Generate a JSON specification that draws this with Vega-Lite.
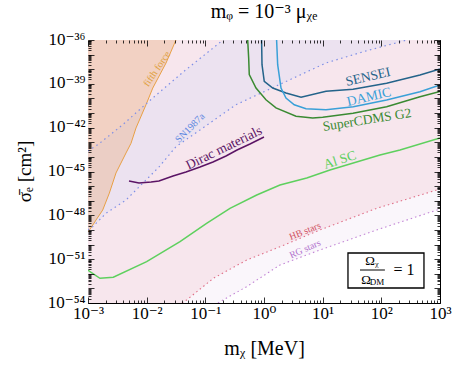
{
  "$schema": "https://vega.github.io/schema/vega-lite/v6.json",
  "width": 352,
  "height": 263,
  "autosize": "none",
  "padding": {"left": 88, "top": 40, "right": 14, "bottom": 63},
  "background": "white",
  "title": {"text": "mᵩ = 10⁻³ μᵪₑ", "font": "Liberation Serif, DejaVu Serif", "fontSize": 20, "fontWeight": "normal", "color": "black", "anchor": "middle", "frame": "group", "baseline": "alphabetic", "offset": 0, "dy": 8},
  "config": {"view": {"stroke": "black", "strokeWidth": 1}, "font": "Liberation Serif, DejaVu Serif"},
  "datasets": {
    "rg": [
      {"m": 0.001, "s": 1e-54}, {"m": 0.164, "s": 1e-54}, {"m": 0.202, "s": 1.62e-54}, {"m": 0.507, "s": 1.32e-53},
      {"m": 1.87, "s": 3.98e-52}, {"m": 9.02, "s": 4.27e-51}, {"m": 83.4, "s": 1e-49}, {"m": 1000, "s": 2.71e-48}
    ],
    "hb": [
      {"m": 0.001, "s": 1e-54}, {"m": 0.04, "s": 1e-54}, {"m": 0.0481, "s": 1.62e-54}, {"m": 0.137, "s": 4.9e-53},
      {"m": 0.507, "s": 8.71e-52}, {"m": 1.87, "s": 7.08e-51}, {"m": 9.02, "s": 1e-49}, {"m": 83.4, "s": 3.02e-48}, {"m": 1000, "s": 6.34e-47}
    ],
    "sn": [
      {"m": 0.001, "lo": 1e-49, "hi": 2.51e-44}, {"m": 0.0012, "lo": 1.66e-49, "hi": 4.12e-44},
      {"m": 0.00146, "lo": 3.66e-49, "hi": 6.76e-44}, {"m": 0.00203, "lo": 1.38e-48, "hi": 1.93e-43},
      {"m": 0.0039, "lo": 7.92e-48, "hi": 1.58e-42}, {"m": 0.00445, "lo": 1.12e-47, "hi": 2.52e-42},
      {"m": 0.00855, "lo": 1.55e-46, "hi": 2.64e-41}, {"m": 0.0127, "lo": 7.53e-46, "hi": 1.07e-40},
      {"m": 0.0164, "lo": 2.14e-45, "hi": 2.59e-40}, {"m": 0.0316, "lo": 5.01e-44, "hi": 2.43e-39},
      {"m": 0.0468, "lo": 1.5e-43, "hi": 9.33e-39}, {"m": 0.0811, "lo": 6.92e-43, "hi": 5.42e-38},
      {"m": 0.2, "lo": 8.9e-42, "hi": 1e-36}, {"m": 0.333, "lo": 3.72e-41, "hi": 1e-36},
      {"m": 11.4, "lo": 2.69e-38, "hi": 1e-36}, {"m": 54.8, "lo": 1.78e-37, "hi": 1e-36}, {"m": 274, "lo": 1e-36, "hi": 1e-36}
    ],
    "fifth": [
      {"m": 0.001, "s": 7.24e-50}, {"m": 0.00112, "s": 1.35e-49}, {"m": 0.00137, "s": 4.79e-49}, {"m": 0.00178, "s": 2.29e-48},
      {"m": 0.00231, "s": 3.3e-47}, {"m": 0.003, "s": 7.94e-46}, {"m": 0.00445, "s": 1.86e-44}, {"m": 0.00541, "s": 8.51e-44},
      {"m": 0.00658, "s": 9.55e-43}, {"m": 0.00975, "s": 3.72e-41}, {"m": 0.0127, "s": 5.13e-40}, {"m": 0.0214, "s": 2.69e-38},
      {"m": 0.0316, "s": 1e-36}
    ],
    "limits": [
      {"exp": "SENSEI", "m": 0.91, "s": 1e-36}, {"exp": "SENSEI", "m": 0.925, "s": 2.04e-38}, {"exp": "SENSEI", "m": 1.01, "s": 1.48e-39},
      {"exp": "SENSEI", "m": 1.41, "s": 5.13e-40}, {"exp": "SENSEI", "m": 2.37, "s": 2.34e-40}, {"exp": "SENSEI", "m": 4.28, "s": 1.2e-40},
      {"exp": "SENSEI", "m": 11.4, "s": 3.09e-40}, {"exp": "SENSEI", "m": 32.9, "s": 4.27e-40}, {"exp": "SENSEI", "m": 123, "s": 1.1e-39},
      {"exp": "SENSEI", "m": 456, "s": 3.98e-39}, {"exp": "SENSEI", "m": 1000, "s": 1.04e-38},
      {"exp": "DAMIC", "m": 1.64, "s": 1e-36}, {"exp": "DAMIC", "m": 1.71, "s": 2.04e-38}, {"exp": "DAMIC", "m": 1.95, "s": 5.13e-40},
      {"exp": "DAMIC", "m": 2.37, "s": 1.07e-40}, {"exp": "DAMIC", "m": 3.28, "s": 3.72e-41}, {"exp": "DAMIC", "m": 5.2, "s": 2e-41},
      {"exp": "DAMIC", "m": 11.4, "s": 1.7e-41}, {"exp": "DAMIC", "m": 33.3, "s": 2.69e-41}, {"exp": "DAMIC", "m": 123, "s": 7.76e-41},
      {"exp": "DAMIC", "m": 456, "s": 2.88e-40}, {"exp": "DAMIC", "m": 1000, "s": 8.32e-40},
      {"exp": "SuperCDMS G2", "m": 0.527, "s": 1e-36}, {"exp": "SuperCDMS G2", "m": 0.548, "s": 5.89e-38}, {"exp": "SuperCDMS G2", "m": 0.561, "s": 4.27e-39},
      {"exp": "SuperCDMS G2", "m": 0.731, "s": 5.13e-40}, {"exp": "SuperCDMS G2", "m": 1.08, "s": 8.13e-41}, {"exp": "SuperCDMS G2", "m": 1.6, "s": 2.24e-41},
      {"exp": "SuperCDMS G2", "m": 3.51, "s": 6.03e-42}, {"exp": "SuperCDMS G2", "m": 6.76, "s": 4.57e-42}, {"exp": "SuperCDMS G2", "m": 10, "s": 5.13e-42},
      {"exp": "SuperCDMS G2", "m": 32.9, "s": 9.55e-42}, {"exp": "SuperCDMS G2", "m": 123, "s": 2.69e-41}, {"exp": "SuperCDMS G2", "m": 456, "s": 1.32e-40},
      {"exp": "SuperCDMS G2", "m": 1000, "s": 2.99e-40},
      {"exp": "Al SC", "m": 0.001, "s": 1.82e-52}, {"exp": "Al SC", "m": 0.00108, "s": 1.38e-52}, {"exp": "Al SC", "m": 0.0016, "s": 4.9e-53},
      {"exp": "Al SC", "m": 0.0027, "s": 5.75e-53}, {"exp": "Al SC", "m": 0.01, "s": 6.76e-52}, {"exp": "Al SC", "m": 0.037, "s": 1.58e-50},
      {"exp": "Al SC", "m": 0.105, "s": 2.82e-49}, {"exp": "Al SC", "m": 0.263, "s": 3.02e-48}, {"exp": "Al SC", "m": 0.752, "s": 2.45e-47},
      {"exp": "Al SC", "m": 1.87, "s": 1.2e-46}, {"exp": "Al SC", "m": 5.35, "s": 3.63e-46}, {"exp": "Al SC", "m": 13.3, "s": 1.26e-45},
      {"exp": "Al SC", "m": 94.8, "s": 1.35e-44}, {"exp": "Al SC", "m": 208, "s": 2.95e-44}, {"exp": "Al SC", "m": 1000, "s": 1.95e-43},
      {"exp": "Dirac materials", "m": 0.005, "s": 2.24e-46}, {"exp": "Dirac materials", "m": 0.0074, "s": 1.62e-46}, {"exp": "Dirac materials", "m": 0.0119, "s": 1.91e-46},
      {"exp": "Dirac materials", "m": 0.0162, "s": 2.24e-46}, {"exp": "Dirac materials", "m": 0.0281, "s": 4.9e-46}, {"exp": "Dirac materials", "m": 0.0468, "s": 9.33e-46},
      {"exp": "Dirac materials", "m": 0.0811, "s": 2.04e-45}, {"exp": "Dirac materials", "m": 0.135, "s": 4.47e-45}, {"exp": "Dirac materials", "m": 0.225, "s": 1.15e-44},
      {"exp": "Dirac materials", "m": 0.347, "s": 2.95e-44}, {"exp": "Dirac materials", "m": 0.577, "s": 7.59e-44}, {"exp": "Dirac materials", "m": 1, "s": 2.29e-43}
    ],
    "labels": [
      {"label": "fifth force", "m": 0.015, "s": 1.04e-38},
      {"label": "SN1987a", "m": 0.0548, "s": 9.55e-43},
      {"label": "Dirac materials", "m": 0.208, "s": 4.07e-44},
      {"label": "SENSEI", "m": 59.3, "s": 2.94e-39},
      {"label": "DAMIC", "m": 61.7, "s": 1.26e-40},
      {"label": "SuperCDMS G2", "m": 57, "s": 3.35e-42},
      {"label": "Al SC", "m": 19.7, "s": 6.12e-45},
      {"label": "HB stars", "m": 5, "s": 8.47e-50},
      {"label": "RG stars", "m": 5, "s": 4.97e-51}
    ],
    "box": [{"m1": 27, "m2": 533, "s1": 2.64e-51, "s2": 1.06e-53}],
    "boxtext": [
      {"t": "Ωᵪ", "m": 69.3, "s": 7.48e-52},
      {"t": "Ω", "m": 54.8, "s": 3.75e-53},
      {"t": "DM", "m": 84.4, "s": 2.73e-53},
      {"t": "= 1", "m": 243, "s": 1.81e-52}
    ],
    "bar": [{"m1": 43.3, "m2": 115, "s": 1.81e-52}]
  },
  "resolve": {"axis": {"x": "independent", "y": "independent"}},
  "layer": [
    {
      "layer": [
        {
          "data": {"name": "rg"},
          "mark": {"type": "area", "color": "#faf6fb", "clip": true},
          "encoding": {
            "x": {"field": "m", "type": "quantitative", "scale": {"type": "log", "domain": [0.001, 1000], "nice": false},
              "axis": {
                "orient": "bottom", "title": "mᵪ [MeV]", "grid": false, "domain": false, "zindex": 2,
                "values": [0.001,0.002,0.003,0.004,0.005,0.006,0.007,0.008,0.009,0.01,0.02,0.03,0.04,0.05,0.06,0.07,0.08,0.09,0.1,0.2,0.3,0.4,0.5,0.6,0.7,0.8,0.9,1,2,3,4,5,6,7,8,9,10,20,30,40,50,60,70,80,90,100,200,300,400,500,600,700,800,900,1000],
                "labelExpr": "abs(log(datum.value)/LN10 - round(log(datum.value)/LN10)) < 0.01 ? '10' + (round(log(datum.value)/LN10) < 0 ? '⁻' : '') + substring('⁰¹²³⁴⁵⁶⁷⁸⁹', abs(round(log(datum.value)/LN10)), abs(round(log(datum.value)/LN10)) + 1) : ''",
                "tickSize": {"condition": {"test": "abs(log(datum.value)/LN10 - round(log(datum.value)/LN10)) < 0.01", "value": -6}, "value": -3},
                "tickColor": "black", "tickWidth": 0.8,
                "labelPadding": 8, "labelFont": "Liberation Serif, DejaVu Serif", "labelFontSize": 17, "labelColor": "black",
                "labelOverlap": false, "labelFlush": false,
                "titleFont": "Liberation Serif, DejaVu Serif", "titleFontSize": 20, "titleFontWeight": "normal", "titleColor": "black",
                "titleY": 51, "titleBaseline": "alphabetic"
              }},
            "y": {"field": "s", "type": "quantitative", "scale": {"type": "log", "domain": [1e-54, 1e-36], "nice": false},
              "axis": {
                "orient": "left", "title": "σ̄ₑ [cm²]", "grid": false, "domain": false, "zindex": 2,
                "values": [1e-54,2e-54,3e-54,4e-54,5e-54,6e-54,7e-54,8e-54,9e-54,1e-53,2e-53,3e-53,4e-53,5e-53,6e-53,7e-53,8e-53,9e-53,1e-52,2e-52,3e-52,4e-52,5e-52,6e-52,7e-52,8e-52,9e-52,1e-51,2e-51,3e-51,4e-51,5e-51,6e-51,7e-51,8e-51,9e-51,1e-50,2e-50,3e-50,4e-50,5e-50,6e-50,7e-50,8e-50,9e-50,1e-49,2e-49,3e-49,4e-49,5e-49,6e-49,7e-49,8e-49,9e-49,1e-48,2e-48,3e-48,4e-48,5e-48,6e-48,7e-48,8e-48,9e-48,1e-47,2e-47,3e-47,4e-47,5e-47,6e-47,7e-47,8e-47,9e-47,1e-46,2e-46,3e-46,4e-46,5e-46,6e-46,7e-46,8e-46,9e-46,1e-45,2e-45,3e-45,4e-45,5e-45,6e-45,7e-45,8e-45,9e-45,1e-44,2e-44,3e-44,4e-44,5e-44,6e-44,7e-44,8e-44,9e-44,1e-43,2e-43,3e-43,4e-43,5e-43,6e-43,7e-43,8e-43,9e-43,1e-42,2e-42,3e-42,4e-42,5e-42,6e-42,7e-42,8e-42,9e-42,1e-41,2e-41,3e-41,4e-41,5e-41,6e-41,7e-41,8e-41,9e-41,1e-40,2e-40,3e-40,4e-40,5e-40,6e-40,7e-40,8e-40,9e-40,1e-39,2e-39,3e-39,4e-39,5e-39,6e-39,7e-39,8e-39,9e-39,1e-38,2e-38,3e-38,4e-38,5e-38,6e-38,7e-38,8e-38,9e-38,1e-37,2e-37,3e-37,4e-37,5e-37,6e-37,7e-37,8e-37,9e-37,1e-36],
                "labelExpr": "abs(log(datum.value)/LN10 - round(log(datum.value)/LN10)) < 0.01 && round(log(datum.value)/LN10) % 3 == 0 ? '10⁻' + substring('⁰¹²³⁴⁵⁶⁷⁸⁹', floor(abs(round(log(datum.value)/LN10))/10), floor(abs(round(log(datum.value)/LN10))/10) + 1) + substring('⁰¹²³⁴⁵⁶⁷⁸⁹', abs(round(log(datum.value)/LN10)) % 10, abs(round(log(datum.value)/LN10)) % 10 + 1) : ''",
                "tickSize": {"condition": {"test": "abs(log(datum.value)/LN10 - round(log(datum.value)/LN10)) < 0.01", "value": -6}, "value": -3},
                "tickColor": "black", "tickWidth": 0.8,
                "labelPadding": 9, "labelFont": "Liberation Serif, DejaVu Serif", "labelFontSize": 17, "labelColor": "black",
                "labelBaseline": "middle", "labelOffset": -1, "labelOverlap": false, "labelFlush": false,
                "titleFont": "Liberation Serif, DejaVu Serif", "titleFontSize": 19, "titleFontWeight": "normal", "titleColor": "black",
                "titleX": -64, "titleY": 131, "titleBaseline": "middle", "titleAlign": "center"
              }},
            "y2": {"datum": 1e-36}
          }
        },
        {
          "data": {"name": "hb"},
          "mark": {"type": "area", "color": "#f7e6ed", "clip": true},
          "encoding": {
            "x": {"field": "m", "type": "quantitative"},
            "y": {"field": "s", "type": "quantitative"},
            "y2": {"datum": 1e-36}
          }
        },
        {
          "data": {"name": "sn"},
          "mark": {"type": "area", "color": "#ece2f0", "clip": true},
          "encoding": {
            "x": {"field": "m", "type": "quantitative"},
            "y": {"field": "lo", "type": "quantitative"},
            "y2": {"field": "hi"}
          }
        },
        {
          "data": {"name": "fifth"},
          "mark": {"type": "area", "color": "#e8ad7a", "opacity": 0.36, "clip": true},
          "encoding": {
            "x": {"field": "m", "type": "quantitative"},
            "y": {"field": "s", "type": "quantitative"},
            "y2": {"datum": 1e-36}
          }
        },
        {
          "data": {"name": "fifth"},
          "mark": {"type": "line", "color": "#e8a046", "strokeWidth": 1, "clip": true},
          "encoding": {
            "x": {"field": "m", "type": "quantitative"},
            "y": {"field": "s", "type": "quantitative"}
          }
        },
        {
          "data": {"name": "sn"},
          "mark": {"type": "line", "color": "#7f8fe6", "strokeWidth": 1.2, "strokeDash": [1.5, 3.5], "clip": true},
          "encoding": {
            "x": {"field": "m", "type": "quantitative"},
            "y": {"field": "lo", "type": "quantitative"}
          }
        },
        {
          "data": {"name": "sn"},
          "transform": [{"filter": "datum.m <= 0.2"}],
          "mark": {"type": "line", "color": "#7f8fe6", "strokeWidth": 1.2, "strokeDash": [1.5, 3.5], "clip": true},
          "encoding": {
            "x": {"field": "m", "type": "quantitative"},
            "y": {"field": "hi", "type": "quantitative"}
          }
        },
        {
          "data": {"name": "hb"},
          "transform": [{"filter": "datum.m >= 0.04"}],
          "mark": {"type": "line", "color": "#e07088", "strokeWidth": 1.1, "strokeDash": [1.5, 3], "clip": true},
          "encoding": {
            "x": {"field": "m", "type": "quantitative"},
            "y": {"field": "s", "type": "quantitative"}
          }
        },
        {
          "data": {"name": "rg"},
          "transform": [{"filter": "datum.m >= 0.164"}],
          "mark": {"type": "line", "color": "#c285d6", "strokeWidth": 1.1, "strokeDash": [1.5, 3], "clip": true},
          "encoding": {
            "x": {"field": "m", "type": "quantitative"},
            "y": {"field": "s", "type": "quantitative"}
          }
        },
        {
          "data": {"name": "limits"},
          "mark": {"type": "line", "strokeWidth": 1.5, "clip": true},
          "encoding": {
            "x": {"field": "m", "type": "quantitative"},
            "y": {"field": "s", "type": "quantitative"},
            "color": {"field": "exp", "type": "nominal", "legend": null,
              "scale": {"domain": ["SENSEI", "DAMIC", "SuperCDMS G2", "Al SC", "Dirac materials"], "range": ["#23638a", "#3aa0d8", "#3a8a32", "#5ed05e", "#5b1465"]}},
            "order": {"value": null}
          }
        },
        {
          "data": {"name": "labels"}, "transform": [{"filter": "datum.label == 'fifth force'"}],
          "mark": {"type": "text", "font": "Liberation Serif", "fontSize": 10, "color": "#e0a040", "angle": -56},
          "encoding": {"x": {"field": "m", "type": "quantitative"}, "y": {"field": "s", "type": "quantitative"}, "text": {"field": "label"}}
        },
        {
          "data": {"name": "labels"}, "transform": [{"filter": "datum.label == 'SN1987a'"}],
          "mark": {"type": "text", "font": "Liberation Serif", "fontSize": 10, "color": "#5b86e0", "angle": -45},
          "encoding": {"x": {"field": "m", "type": "quantitative"}, "y": {"field": "s", "type": "quantitative"}, "text": {"field": "label"}}
        },
        {
          "data": {"name": "labels"}, "transform": [{"filter": "datum.label == 'Dirac materials'"}],
          "mark": {"type": "text", "font": "Liberation Serif", "fontSize": 13.5, "color": "#5b1465", "angle": -26},
          "encoding": {"x": {"field": "m", "type": "quantitative"}, "y": {"field": "s", "type": "quantitative"}, "text": {"field": "label"}}
        },
        {
          "data": {"name": "labels"}, "transform": [{"filter": "datum.label == 'SENSEI'"}],
          "mark": {"type": "text", "font": "Liberation Serif", "fontSize": 13.5, "color": "#23638a", "angle": -13},
          "encoding": {"x": {"field": "m", "type": "quantitative"}, "y": {"field": "s", "type": "quantitative"}, "text": {"field": "label"}}
        },
        {
          "data": {"name": "labels"}, "transform": [{"filter": "datum.label == 'DAMIC'"}],
          "mark": {"type": "text", "font": "Liberation Serif", "fontSize": 13.5, "color": "#3aa0d8", "angle": -13},
          "encoding": {"x": {"field": "m", "type": "quantitative"}, "y": {"field": "s", "type": "quantitative"}, "text": {"field": "label"}}
        },
        {
          "data": {"name": "labels"}, "transform": [{"filter": "datum.label == 'SuperCDMS G2'"}],
          "mark": {"type": "text", "font": "Liberation Serif", "fontSize": 13.5, "color": "#3a8a32", "angle": -9},
          "encoding": {"x": {"field": "m", "type": "quantitative"}, "y": {"field": "s", "type": "quantitative"}, "text": {"field": "label"}}
        },
        {
          "data": {"name": "labels"}, "transform": [{"filter": "datum.label == 'Al SC'"}],
          "mark": {"type": "text", "font": "Liberation Serif", "fontSize": 13.5, "color": "#5ed05e", "angle": -18},
          "encoding": {"x": {"field": "m", "type": "quantitative"}, "y": {"field": "s", "type": "quantitative"}, "text": {"field": "label"}}
        },
        {
          "data": {"name": "labels"}, "transform": [{"filter": "datum.label == 'HB stars'"}],
          "mark": {"type": "text", "font": "Liberation Serif", "fontSize": 9.5, "color": "#d0505f", "angle": -22},
          "encoding": {"x": {"field": "m", "type": "quantitative"}, "y": {"field": "s", "type": "quantitative"}, "text": {"field": "label"}}
        },
        {
          "data": {"name": "labels"}, "transform": [{"filter": "datum.label == 'RG stars'"}],
          "mark": {"type": "text", "font": "Liberation Serif", "fontSize": 9.5, "color": "#b070cc", "angle": -24},
          "encoding": {"x": {"field": "m", "type": "quantitative"}, "y": {"field": "s", "type": "quantitative"}, "text": {"field": "label"}}
        }
      ]
    },
    {
      "layer": [
        {
          "data": {"name": "box"},
          "mark": {"type": "rect", "fill": "white", "stroke": "black", "strokeWidth": 1.3},
          "encoding": {
            "x": {"field": "m1", "type": "quantitative",
              "axis": {"orient": "top", "title": null, "labels": false, "grid": false, "domain": false, "zindex": 2,
                "values": [0.001,0.002,0.003,0.004,0.005,0.006,0.007,0.008,0.009,0.01,0.02,0.03,0.04,0.05,0.06,0.07,0.08,0.09,0.1,0.2,0.3,0.4,0.5,0.6,0.7,0.8,0.9,1,2,3,4,5,6,7,8,9,10,20,30,40,50,60,70,80,90,100,200,300,400,500,600,700,800,900,1000],
                "tickSize": {"condition": {"test": "abs(log(datum.value)/LN10 - round(log(datum.value)/LN10)) < 0.01", "value": -6}, "value": -3},
                "tickColor": "black", "tickWidth": 0.8}},
            "x2": {"field": "m2"},
            "y": {"field": "s1", "type": "quantitative",
              "axis": {"orient": "right", "title": null, "labels": false, "grid": false, "domain": false, "zindex": 2,
                "values": [1e-54,2e-54,3e-54,4e-54,5e-54,6e-54,7e-54,8e-54,9e-54,1e-53,2e-53,3e-53,4e-53,5e-53,6e-53,7e-53,8e-53,9e-53,1e-52,2e-52,3e-52,4e-52,5e-52,6e-52,7e-52,8e-52,9e-52,1e-51,2e-51,3e-51,4e-51,5e-51,6e-51,7e-51,8e-51,9e-51,1e-50,2e-50,3e-50,4e-50,5e-50,6e-50,7e-50,8e-50,9e-50,1e-49,2e-49,3e-49,4e-49,5e-49,6e-49,7e-49,8e-49,9e-49,1e-48,2e-48,3e-48,4e-48,5e-48,6e-48,7e-48,8e-48,9e-48,1e-47,2e-47,3e-47,4e-47,5e-47,6e-47,7e-47,8e-47,9e-47,1e-46,2e-46,3e-46,4e-46,5e-46,6e-46,7e-46,8e-46,9e-46,1e-45,2e-45,3e-45,4e-45,5e-45,6e-45,7e-45,8e-45,9e-45,1e-44,2e-44,3e-44,4e-44,5e-44,6e-44,7e-44,8e-44,9e-44,1e-43,2e-43,3e-43,4e-43,5e-43,6e-43,7e-43,8e-43,9e-43,1e-42,2e-42,3e-42,4e-42,5e-42,6e-42,7e-42,8e-42,9e-42,1e-41,2e-41,3e-41,4e-41,5e-41,6e-41,7e-41,8e-41,9e-41,1e-40,2e-40,3e-40,4e-40,5e-40,6e-40,7e-40,8e-40,9e-40,1e-39,2e-39,3e-39,4e-39,5e-39,6e-39,7e-39,8e-39,9e-39,1e-38,2e-38,3e-38,4e-38,5e-38,6e-38,7e-38,8e-38,9e-38,1e-37,2e-37,3e-37,4e-37,5e-37,6e-37,7e-37,8e-37,9e-37,1e-36],
                "tickSize": {"condition": {"test": "abs(log(datum.value)/LN10 - round(log(datum.value)/LN10)) < 0.01", "value": -6}, "value": -3},
                "tickColor": "black", "tickWidth": 0.8}},
            "y2": {"field": "s2"}
          }
        },
        {
          "data": {"name": "bar"},
          "mark": {"type": "rule", "color": "black", "strokeWidth": 1},
          "encoding": {
            "x": {"field": "m1", "type": "quantitative"},
            "x2": {"field": "m2"},
            "y": {"field": "s", "type": "quantitative"}
          }
        },
        {
          "data": {"name": "boxtext"}, "transform": [{"filter": "datum.t != 'DM' && datum.t != '= 1'"}],
          "mark": {"type": "text", "font": "Liberation Serif, DejaVu Serif", "fontSize": 13, "color": "black"},
          "encoding": {"x": {"field": "m", "type": "quantitative"}, "y": {"field": "s", "type": "quantitative"}, "text": {"field": "t"}}
        },
        {
          "data": {"name": "boxtext"}, "transform": [{"filter": "datum.t == 'DM'"}],
          "mark": {"type": "text", "font": "Liberation Serif", "fontSize": 9, "color": "black"},
          "encoding": {"x": {"field": "m", "type": "quantitative"}, "y": {"field": "s", "type": "quantitative"}, "text": {"field": "t"}}
        },
        {
          "data": {"name": "boxtext"}, "transform": [{"filter": "datum.t == '= 1'"}],
          "mark": {"type": "text", "font": "Liberation Serif", "fontSize": 16, "color": "black"},
          "encoding": {"x": {"field": "m", "type": "quantitative"}, "y": {"field": "s", "type": "quantitative"}, "text": {"field": "t"}}
        }
      ]
    }
  ]
}
